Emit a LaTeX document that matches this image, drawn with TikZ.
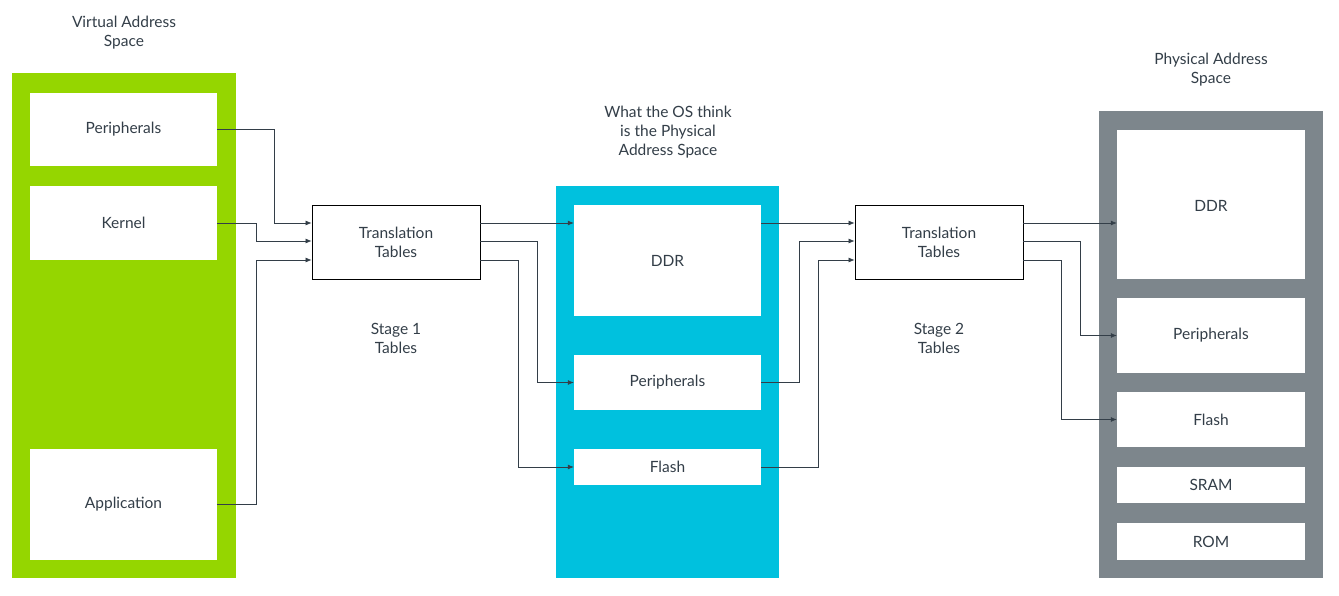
\documentclass[tikz,border=0pt]{standalone}
\usepackage{fontspec}
\setmainfont{Lato}
\usetikzlibrary{arrows.meta}
\definecolor{grn}{HTML}{95D600}
\definecolor{blu}{HTML}{00C1DE}
\definecolor{gry}{HTML}{7D868C}
\definecolor{txt}{HTML}{333E48}
\begin{document}
\begin{tikzpicture}[x=1pt,y=-1pt,
  wb/.style={fill=white,draw=none,font=\fontsize{15.5}{19}\selectfont,text=txt},
  tt/.style={fill=white,draw=black,line width=0.8pt,font=\fontsize{15.5}{19}\selectfont,text=txt,align=center},
  lbl/.style={font=\fontsize{15.5}{19}\selectfont,text=txt,align=center},
  ar/.style={-{Latex[length=6pt,width=5pt]},line width=0.7pt,draw=txt}]
\useasboundingbox (0,0) rectangle (1339,596);
\newcommand{\bx}[6]{\node[#6,minimum width=#3-#2,minimum height=#5-#4,inner sep=0] (#1) at ({(#2+#3)/2},{(#4+#5)/2}) {};}
% panels
\fill[grn] (12,73) rectangle (236,578);
\fill[blu] (556,186) rectangle (779,578);
\fill[gry] (1099,111) rectangle (1323,578);
% green boxes
\node[wb,minimum width=187,minimum height=73] (vp) at (123.5,129.5) {Peripherals};
\node[wb,minimum width=187,minimum height=74] (vk) at (123.5,223) {Kernel};
\node[wb,minimum width=187,minimum height=111] (va) at (123.5,504.5) {Application};
% blue boxes
\node[wb,minimum width=187,minimum height=111] (bd) at (667.5,260.5) {DDR};
\node[wb,minimum width=187,minimum height=55] (bp) at (667.5,382.5) {Peripherals};
\node[wb,minimum width=187,minimum height=36] (bf) at (667.5,467) {Flash};
% gray boxes
\node[wb,minimum width=188,minimum height=149,anchor=north] (pd) at (1211,130) {};
\node[lbl] at (1211,206) {DDR};
\node[wb,minimum width=188,minimum height=75] (pp) at (1211,335.5) {Peripherals};
\node[wb,minimum width=188,minimum height=55] (pf) at (1211,419.5) {Flash};
\node[wb,minimum width=188,minimum height=36] (ps) at (1211,485) {SRAM};
\node[wb,minimum width=188,minimum height=37] (pr) at (1211,541.5) {ROM};
% translation tables
\node[tt,minimum width=168,minimum height=74,inner sep=0] (t1) at (396,242) {Translation\\Tables};
\node[tt,minimum width=168,minimum height=74,inner sep=0] (t2) at (939,242) {Translation\\Tables};
% labels
\node[lbl] at (124,33) {Virtual Address\\Space};
\node[lbl] at (668,132) {What the OS think\\is the Physical\\Address Space};
\node[lbl] at (1211,70) {Physical Address\\Space};
\node[lbl] at (396,338) {Stage 1\\Tables};
\node[lbl] at (939,338) {Stage 2\\Tables};
% connectors stage 1 in
\draw[ar] (vp.east) -- (274,129.5) |- (t1.west|-0,223);
\draw[ar] (vk.east) -- (256,223) |- (t1.west|-0,241);
\draw[ar] (va.east) -- (256,504.5) |- (t1.west|-0,260);
% stage 1 out
\draw[ar] (t1.east|-0,223) -- (bd.west|-0,223);
\draw[ar] (t1.east|-0,241) -- (537,241) |- (bp.west);
\draw[ar] (t1.east|-0,260) -- (518,260) |- (bf.west);
% stage 2 in
\draw[ar] (bd.east|-0,223) -- (t2.west|-0,223);
\draw[ar] (bp.east) -- (799,382.5) |- (t2.west|-0,241);
\draw[ar] (bf.east) -- (818,467) |- (t2.west|-0,260);
% stage 2 out
\draw[ar] (t2.east|-0,223) -- (pd.west|-0,223);
\draw[ar] (t2.east|-0,241) -- (1080,241) |- (pp.west);
\draw[ar] (t2.east|-0,260) -- (1061,260) |- (pf.west);
\end{tikzpicture}
\end{document}
